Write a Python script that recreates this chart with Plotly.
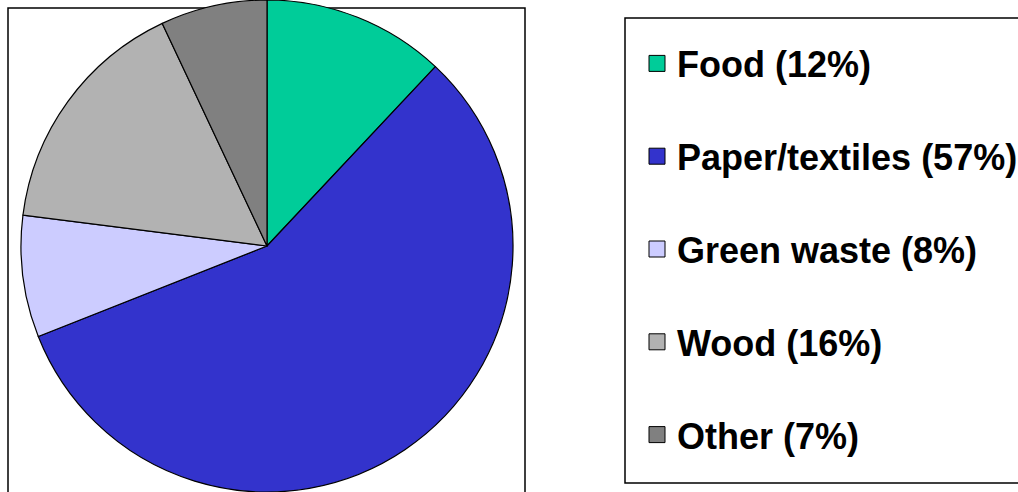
import plotly.graph_objects as go

categories = ["Food", "Paper/textiles", "Green waste", "Wood", "Other"]
values = [12, 57, 8, 16, 7]
colors = ["#00CC99", "#3333CC", "#CCCCFF", "#B2B2B2", "#808080"]
legend_labels = [f"{c} ({v}%)" for c, v in zip(categories, values)]

W, H = 1018, 492
cx, r = 267, 246

fig = go.Figure()
fig.add_trace(go.Pie(
    labels=categories,
    values=values,
    sort=False,
    direction="clockwise",
    rotation=0,
    marker=dict(colors=colors, line=dict(color="black", width=1.2)),
    textinfo="none",
    hoverinfo="label+percent",
    showlegend=False,
    domain=dict(x=[(cx - r) / W, (cx + r) / W], y=[0, 1]),
))

# legend entries
for i, (lab, col) in enumerate(zip(legend_labels, colors)):
    fig.add_trace(go.Scatter(
        x=[None], y=[None], mode="markers", name=lab,
        legendgroup=f"g{i}",
        marker=dict(symbol="square", size=16, color=col,
                    line=dict(color="black", width=1)),
    ))

fig.update_layout(
    width=W, height=H,
    margin=dict(l=0, r=0, t=0, b=0, autoexpand=False),
    paper_bgcolor="white", plot_bgcolor="white",
    xaxis=dict(visible=False), yaxis=dict(visible=False),
    font=dict(family="Liberation Sans, Arial, sans-serif", color="black"),
    legend=dict(
        x=637 / W, xanchor="left",
        y=1 - 33.5 / H, yanchor="top",
        font=dict(size=36, weight="bold", color="black"),
        tracegroupgap=43,
        bgcolor="rgba(0,0,0,0)",
        borderwidth=0,
        itemsizing="trace",
    ),
    shapes=[
        dict(type="rect", xref="paper", yref="paper",
             x0=8 / W, x1=525 / W, y0=-0.05, y1=1 - 8 / H,
             line=dict(color="black", width=1.5), layer="below"),
        dict(type="rect", xref="paper", yref="paper",
             x0=625 / W, x1=1.05, y0=1 - 483 / H, y1=1 - 18 / H,
             line=dict(color="black", width=1.5), layer="below"),
    ],
)

fig.write_html("out.html", config={"displayModeBar": False},
               post_script="document.body.style.margin='0px';")
